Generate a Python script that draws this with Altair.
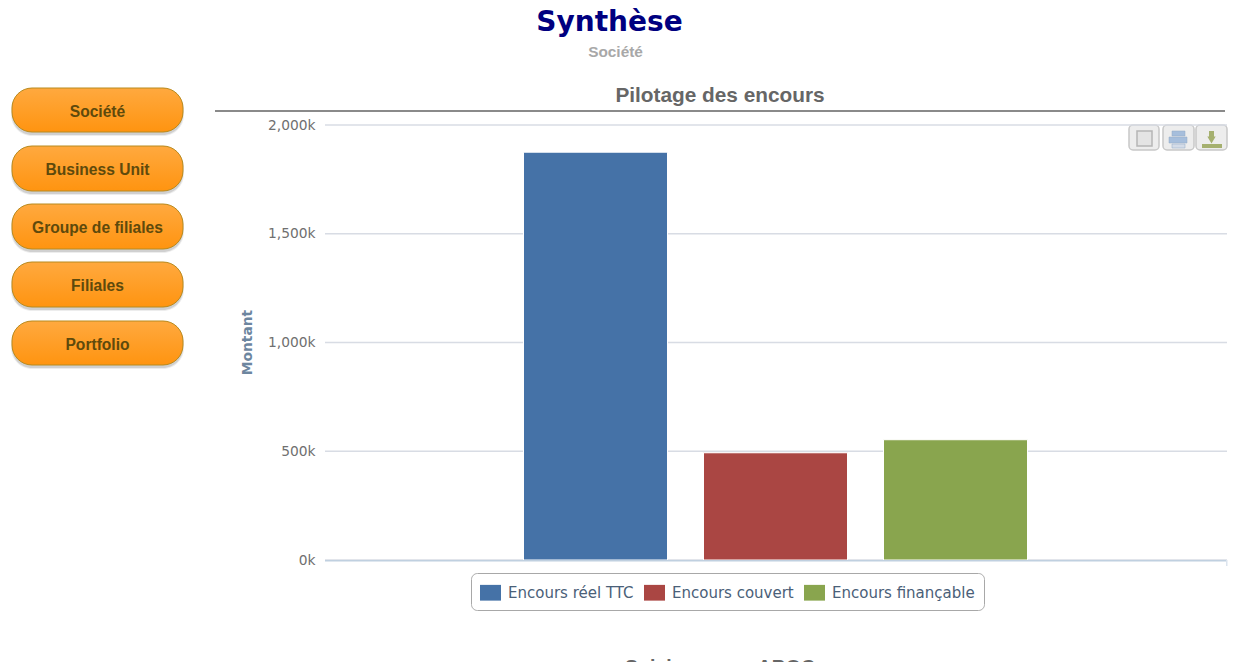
import altair as alt

series = ["Encours réel TTC", "Encours couvert", "Encours finançable"]
amounts = [1875000, 493000, 553000]
colors = ["#4572A7", "#AA4643", "#89A54E"]
y_ticks = [0, 500000, 1000000, 1500000, 2000000]

buttons = ["Société", "Business Unit", "Groupe de filiales", "Filiales", "Portfolio"]
button_top = [88, 146, 204, 262, 321]
button_bottom = [132, 191, 249, 307, 365]

OX, OY = 325, 125   # page position of plot origin


def px(v):
    return alt.value(v - OX)


def py(v):
    return alt.value(v - OY)


def one(text="x"):
    return alt.Data(values=[{"t": text}])


def label(text, x, y, size, color, weight="bold", font="Liberation Sans", align="center", baseline="middle", angle=0):
    return alt.Chart(one(text)).mark_text(
        font=font, fontSize=size, color=color, fontWeight=weight, align=align, baseline=baseline, angle=angle
    ).encode(x=px(x), y=py(y), text="t:N")


def box(x, x2, y, y2, **kw):
    return alt.Chart(one()).mark_rect(**kw).encode(x=px(x), x2=px(x2), y=py(y), y2=py(y2))


y_scale = alt.Scale(domain=[0, 2000000], nice=False)
y_axis = alt.Axis(
    values=y_ticks,
    labelExpr="format(datum.value / 1000, ',') + 'k'",
    title="Montant",
    titleFont="DejaVu Sans",
    titleFontSize=13.8,
    titleFontWeight="bold",
    titleColor="#6D869F",
    titleX=-78,
    titleY=217,
    titleAngle=-90,
    titleAlign="center",
    titleBaseline="middle",
    labelFont="DejaVu Sans",
    labelFontSize=13.8,
    labelColor="#707070",
    labelPadding=10,
    ticks=False,
    domain=False,
    grid=False,
)

layers = []

# page headers
layers.append(label("Synthèse", 609.5, 23, 28, "#000080", font="DejaVu Sans"))
layers.append(label("Société", 615.5, 51.5, 15.4, "#A8A8A8"))
layers.append(label("Pilotage des encours", 720, 96, 20.8, "#666666"))
layers.append(box(215, 1225, 110, 112, color="#8A8A8A"))
layers.append(label("Suivi encours ABOC", 720, 667.5, 19.5, "#666666"))

# side buttons
grad = alt.LinearGradient(
    gradient="linear", x1=0, x2=0, y1=0, y2=1,
    stops=[alt.GradientStop(offset=0, color="#FFA93F"), alt.GradientStop(offset=1, color="#FF9410")],
)
for name, t, b in zip(buttons, button_top, button_bottom):
    layers.append(box(11, 184, t + 1, b + 4, color="#000000", opacity=0.07, cornerRadius=21))
    layers.append(box(12, 183, t + 1, b + 3, color="#000000", opacity=0.12, cornerRadius=20))
    layers.append(box(12, 183, t, b, color=grad, stroke="#B88A1E", strokeWidth=1, cornerRadius=20))
    layers.append(label(name, 97.5, (t + b) / 2 + 1.5, 15.6, "#5E4A0C"))

# export buttons
for x0, x1 in [(1129, 1159), (1163, 1194), (1196, 1227)]:
    layers.append(box(x0, x1, 125, 150, color="#EDEDED", stroke="#C8C8C8", strokeWidth=1.5, cornerRadius=4))
layers.append(box(1137, 1152, 131, 146, color="#E4E4E4", stroke="#B5B5B5", strokeWidth=1.5))
layers.append(box(1172, 1185, 131, 136, color="#A6BEDC", stroke="#93A8C4", strokeWidth=0.5))
layers.append(box(1169, 1187, 137, 143, color="#A6BEDC", stroke="#93A8C4", strokeWidth=0.5))
layers.append(box(1172, 1185, 144, 148, color="#D4DCE8", stroke="#93A8C4", strokeWidth=0.5))
layers.append(box(1209, 1214, 131, 137, color="#A5B06F"))
layers.append(
    alt.Chart(one()).mark_point(shape="triangle-down", filled=True, size=70, color="#A5B06F", opacity=1)
    .encode(x=px(1211.5), y=py(140))
)
layers.append(box(1202, 1222, 144, 148, color="#A5B06F"))

# grid lines, full plot width
layers.append(
    alt.Chart(alt.Data(values=[{"v": v} for v in y_ticks]))
    .mark_rule(color="#D8DCE4", strokeWidth=1.5)
    .encode(y=alt.Y("v:Q", scale=y_scale, axis=y_axis), x=alt.value(0), x2=alt.value(902))
)

# bars
bars = (
    alt.Chart(alt.Data(values=[{"series": s, "amount": a} for s, a in zip(series, amounts)]))
    .mark_bar(stroke="#FFFFFF", strokeWidth=1)
    .encode(
        x=alt.X(
            "series:N", axis=None, sort=series,
            scale=alt.Scale(domain=series, range=[180.5, 720.5], paddingInner=0.2, paddingOuter=0.1),
        ),
        y=alt.Y("amount:Q", scale=y_scale, axis=y_axis),
        color=alt.Color(
            "series:N",
            scale=alt.Scale(domain=series, range=colors),
            legend=alt.Legend(
                title=None,
                orient="none",
                legendX=146,
                legendY=448,
                direction="horizontal",
                columns=3,
                symbolType="M-1,-0.75H1V0.75H-1Z",
                symbolSize=441,
                symbolStrokeWidth=0,
                symbolOpacity=1,
                labelFont="DejaVu Sans",
                labelFontSize=15,
                labelColor="#4A6078",
                labelLimit=200,
                labelOffset=7,
                columnPadding=10,
                padding=9,
                cornerRadius=6,
                strokeColor="#A8A8A8",
                fillColor="#FFFFFF",
            ),
        ),
    )
)
layers.append(bars)

# x axis line and end tick
layers.append(box(325, 1227, 560, 561.5, color="#C0D0E0"))
layers.append(box(1226, 1227.5, 560, 566, color="#DCE4EE"))

chart = (
    alt.layer(*layers)
    .resolve_scale(x="independent", y="shared")
    .properties(
        width=902,
        height=435,
        padding={"left": 317, "top": 117, "right": 7, "bottom": 102},
        autosize=alt.AutoSizeParams(type="none"),
    )
    .configure_view(stroke=None)
)

chart.save("out.html", embed_options={"renderer": "svg", "actions": False})
